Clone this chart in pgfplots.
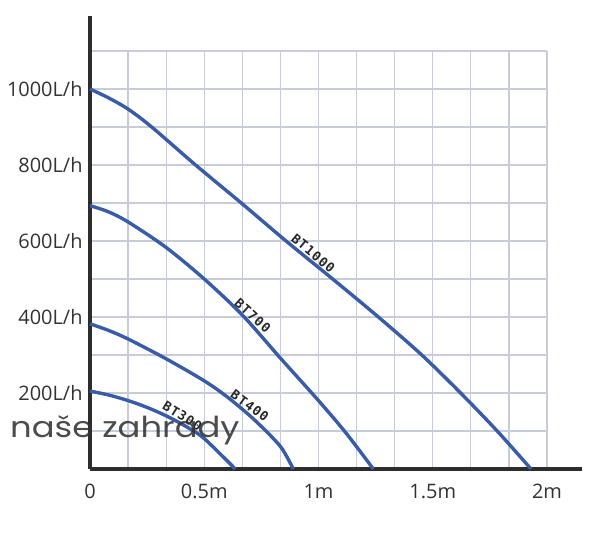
\documentclass[border=0pt]{standalone}
\usepackage{fontspec}
\usepackage{pgfplots}
\pgfplotsset{compat=1.18}
\setmainfont{Open Sans}
\newfontfamily\labfont[LetterSpace=8]{DejaVu Sans Mono Bold}
\newfontfamily\wmfont{Poppins}
\definecolor{curve}{RGB}{56,92,168}
\definecolor{gridc}{RGB}{200,204,216}
\definecolor{axc}{RGB}{45,45,45}
\definecolor{tickc}{RGB}{50,50,50}
\begin{document}
\begin{tikzpicture}
\useasboundingbox (-90bp,-66bp) rectangle (510bp,469bp);
\begin{axis}[
  at={(0,0)}, anchor=south west,
  scale only axis, width=457bp, height=418bp,
  xmin=0, xmax=2, ymin=0, ymax=1100,
  axis lines=left,
  axis line style={-, line width=3.2bp, draw=axc},
  x axis line style={shorten >=-35bp},
  y axis line style={shorten >=-35bp},
  xtick={0,0.5,1,1.5,2},
  xticklabels={0,0.5m,1m,1.5m,2m},
  minor xtick={0.16667,0.33333,0.66667,0.83333,1.16667,1.33333,1.66667,1.83333},
  ytick={200,400,600,800,1000},
  yticklabels={200L/h,400L/h,600L/h,800L/h,1000L/h},
  minor ytick={100,300,500,700,900,1100},
  major tick length=0pt, minor tick length=0pt,
  grid=both,
  major grid style={draw=gridc, line width=1.3bp},
  minor grid style={draw=gridc, line width=1.3bp},
  ticklabel style={font=\fontsize{20}{20}\selectfont, text=tickc},
  xticklabel style={yshift=-12bp},
  yticklabel style={xshift=-4bp},
  clip=false,
]
\addplot[smooth, draw=curve, line width=3.4bp] coordinates {
 (0,1000) (0.08,977) (0.167,947) (0.27,900) (0.462,800) (0.662,700) (0.858,600)
 (1.062,500) (1.262,400) (1.452,300) (1.622,200) (1.782,100) (1.93,0)};
\addplot[smooth, draw=curve, line width=3.4bp] coordinates {
 (0,693) (0.08,677) (0.167,650) (0.333,583) (0.5,500) (0.667,405) (0.833,292)
 (1.0,180) (1.12,95) (1.24,0)};
\addplot[smooth, draw=curve, line width=3.4bp] coordinates {
 (0,382) (0.08,365) (0.167,342) (0.333,290) (0.5,232) (0.6,190) (0.7,140) (0.78,94) (0.84,54) (0.89,0)};
\addplot[smooth, draw=curve, line width=3.4bp] coordinates {
 (0,205) (0.08,195) (0.167,180) (0.25,162) (0.333,140) (0.42,112) (0.5,80) (0.636,0)};
\tikzset{clab/.style={font=\labfont\fontsize{13}{13}\selectfont, anchor=south, inner sep=2.5bp, text=black!85}}
\node[clab, rotate=-40] at (axis cs:0.956,552) {BT1000};
\node[clab, rotate=-42] at (axis cs:0.69,389) {BT700};
\node[clab, rotate=-36] at (axis cs:0.68,150) {BT400};
\node[clab, rotate=-32] at (axis cs:0.387,123) {BT300};
\end{axis}
\node[anchor=base west, inner sep=0pt, text=black!80, opacity=0.88] at (-80bp,32bp)
  {\scalebox{1.17}[1]{\wmfont\fontsize{29}{29}\selectfont naše zahrady}};
\end{tikzpicture}
\end{document}
